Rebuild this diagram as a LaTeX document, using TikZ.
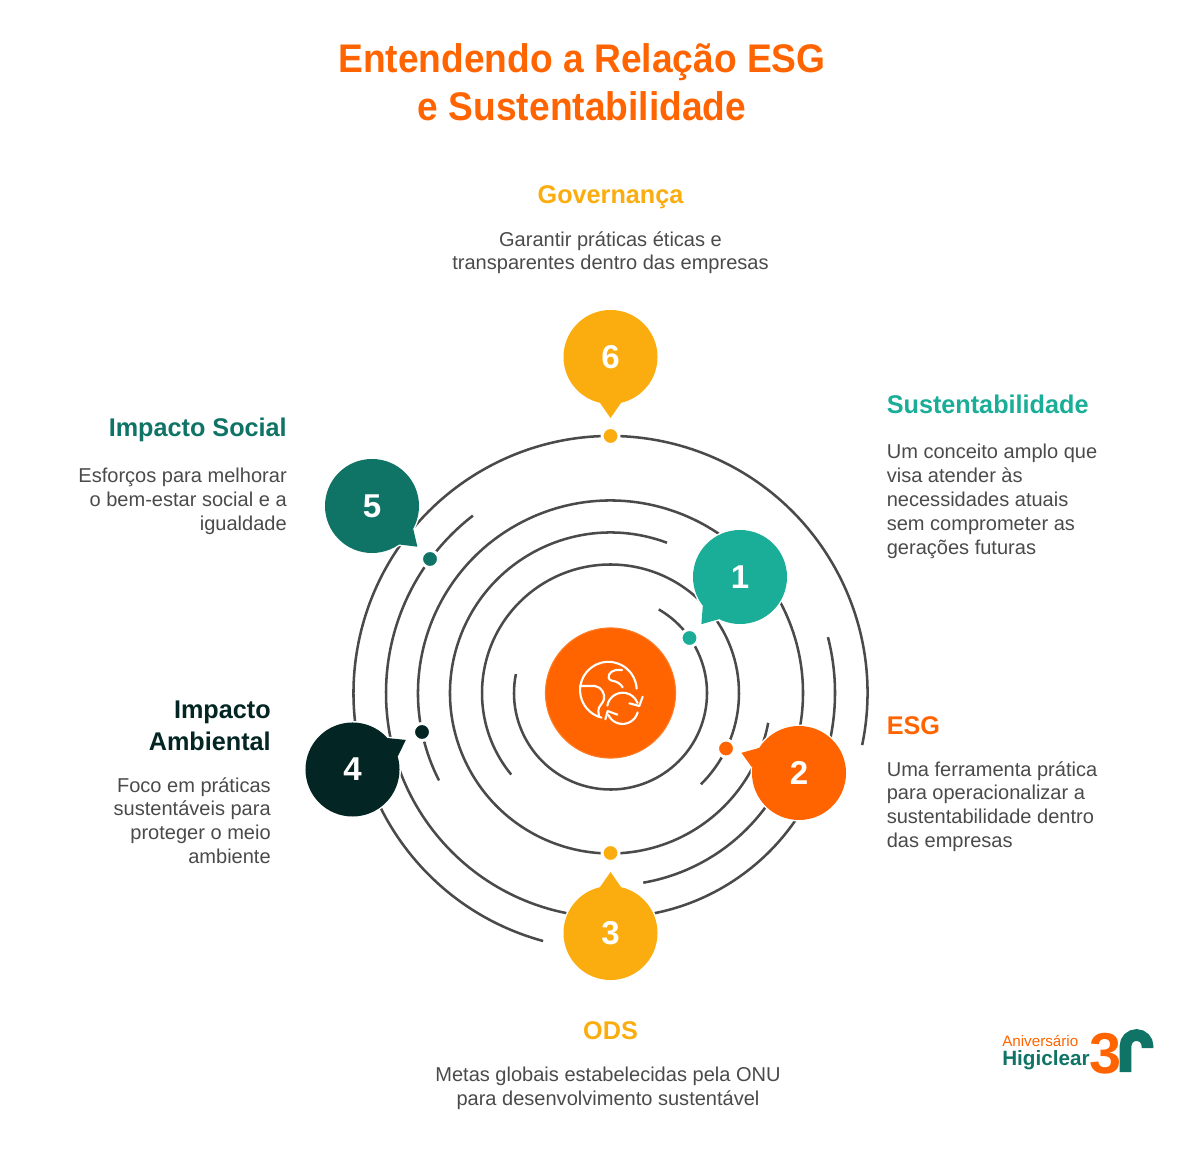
\documentclass[tikz,border=0pt]{standalone}
\usepackage{fontspec}
\setmainfont{Liberation Sans}
\newfontfamily\titlefont[FakeStretch=0.93]{Liberation Sans}
\newfontfamily\headfont[FakeStretch=0.985]{Liberation Sans}
\definecolor{hubOrange}{HTML}{FF6400}
\definecolor{hubEdge}{HTML}{FF7A22}
\definecolor{amberTone}{HTML}{FBAD0F}
\definecolor{tealLight}{HTML}{1AAD98}
\definecolor{tealDeep}{HTML}{0F7466}
\definecolor{darkPine}{HTML}{032523}
\definecolor{inkGray}{HTML}{4A4A4A}
\tikzset{
  ringline/.style={draw=inkGray,line width=1.8pt},
  dotmark/.style={circle,draw=white,line width=2.1pt,minimum size=0.425cm,inner sep=0pt,outer sep=0pt},
  bubblenode/.style={circle,minimum size=2.35cm,inner sep=0pt,outer sep=0pt,text=white,font=\fontsize{23.5}{26}\selectfont\bfseries},
  bodytext/.style={inner sep=0pt,text=inkGray,font=\fontsize{14.25}{17}\selectfont},
  headtext/.style={inner sep=0pt,font=\headfont\fontsize{18.2}{22.7}\selectfont\bfseries},
  iconline/.style={draw=white,line width=1.5pt,line cap=round,line join=round}
}
\begin{document}
\begin{tikzpicture}[x=0.025cm,y=0.025cm]
\useasboundingbox (0,0) rectangle (1200,1157);

\node[inner sep=0pt,align=center,text=hubOrange,font=\titlefont\fontsize{28.4}{34}\selectfont\bfseries] (title) at (582,1075) {Entendendo a Relação ESG\\e Sustentabilidade};

\node[circle,fill=hubOrange,draw=hubEdge,line width=0.8pt,minimum size=3.25cm,inner sep=0pt,outer sep=0pt] (hub) at (610.5,464) {};

% rings
\foreach \r/\a/\b in {96.5/168.7/420,128.5/219.4/-45.3,160.5/69.4/349.3,192.5/207/-80.2,224.5/127.8/374.4,257/-11.7/254.8}
  \draw[ringline] (hub.center) ++(\a:\r) arc (\a:\b:\r);

% dots on the rings
\foreach \n/\col/\px/\py in {1/tealLight/689.5/519,2/hubOrange/726/408.5,3/amberTone/610.5/304,4/darkPine/422/425,5/tealDeep/430/598,6/amberTone/610.5/721}
  \node[dotmark,fill=\col] (dot\n) at (\px,\py) {};

% bubbles
\foreach \n/\col/\px/\py/\t in {1/tealLight/740/580/230.7,2/hubOrange/799/384/160.7,3/amberTone/610.5/224/90,4/darkPine/352.5/387.5/29,5/tealDeep/372/651/-41.9,6/amberTone/610.5/800/-90}{
  \coordinate (mid\n) at (\px,\py);
  \draw[white,line width=2.1pt,line join=round] (mid\n) ++(\t+13:47) -- ([shift={(\t:61)}]mid\n) -- ([shift={(\t-13:47)}]mid\n) -- cycle;
  \draw[white,line width=2.1pt] (mid\n) circle (47);
  \fill[\col] (mid\n) ++(\t+13:47) -- ([shift={(\t:61)}]mid\n) -- ([shift={(\t-13:47)}]mid\n) -- cycle;
  \node[bubblenode,fill=\col] (bubble\n) at (mid\n) {\raisebox{-0.8pt}{\n}};
}

% globe and arrows
\begin{scope}[shift={(530,547)},xscale=1/3,yscale=-1/3]
\draw[iconline] (320,236) arc (-3:-256:85);
\draw[iconline] (150,228) -- (195,228) .. controls (215,232) and (225,250) .. (222,268) .. controls (218,282) and (205,288) .. (205,302) -- (207,320);
\draw[iconline] (276,180) -- (258,180) .. controls (238,182) and (226,205) .. (245,212) .. controls (262,214) and (272,222) .. (278,232);
\draw[iconline] (232,287) arc (-170:-20:47);
\draw[iconline] (338,260) -- (328,288) -- (298,280);
\draw[iconline] (323,307) arc (15:155:47);
\draw[iconline] (226,328) -- (233,303) -- (262,314);
\end{scope}

\node[headtext,text=amberTone] (headSix) at (610.5,959.5) {Governança};
\node[bodytext,align=center,anchor=north] (textSix) at (610.5,926) {Garantir práticas éticas e\\transparentes dentro das empresas};

\node[headtext,text=tealLight,anchor=west] (headOne) at (886.5,753) {Sustentabilidade};
\node[bodytext,align=left,anchor=north west] (textOne) at (886.5,713) {Um conceito amplo que\\visa atender às\\necessidades atuais\\sem comprometer as\\gerações futuras};

\node[headtext,text=hubOrange,anchor=west] (headTwo) at (886.5,431) {ESG};
\node[bodytext,align=left,anchor=north west] (textTwo) at (886.5,396) {Uma ferramenta prática\\para operacionalizar a\\sustentabilidade dentro\\das empresas};

\node[headtext,text=amberTone] (headThree) at (610.5,126) {ODS};
\node[bodytext,align=center,anchor=north] (textThree) at (608,90) {Metas globais estabelecidas pela ONU\\para desenvolvimento sustentável};

\node[headtext,text=darkPine,align=right,anchor=north east] (headFour) at (271,456) {Impacto\\Ambiental};
\node[bodytext,align=right,anchor=north east] (textFour) at (271,380) {Foco em práticas\\sustentáveis para\\proteger o meio\\ambiente};

\node[headtext,text=tealDeep,anchor=east] (headFive) at (287,727) {Impacto Social};
\node[bodytext,align=right,anchor=north east] (textFive) at (287,689) {Esforços para melhorar\\o bem-estar social e a\\igualdade};

% logo
\node[inner sep=0pt,anchor=base west,text=hubOrange,font=\fontsize{10.8}{12}\selectfont] (logoTop) at (1002,111) {Aniversário};
\node[inner sep=0pt,anchor=base west,text=tealDeep,font=\fontsize{14.7}{16}\selectfont\bfseries] (logoName) at (1002,92) {Higiclear};
\node[inner sep=0pt,anchor=base,text=hubOrange,font=\fontsize{41}{41}\selectfont\bfseries] (logoThree) at (1106,84) {3};
\draw[tealDeep,line width=8.3pt] (1125.5,85) -- (1125.5,111) arc (180:0:11) -- (1147.5,109);
\end{tikzpicture}
\end{document}
